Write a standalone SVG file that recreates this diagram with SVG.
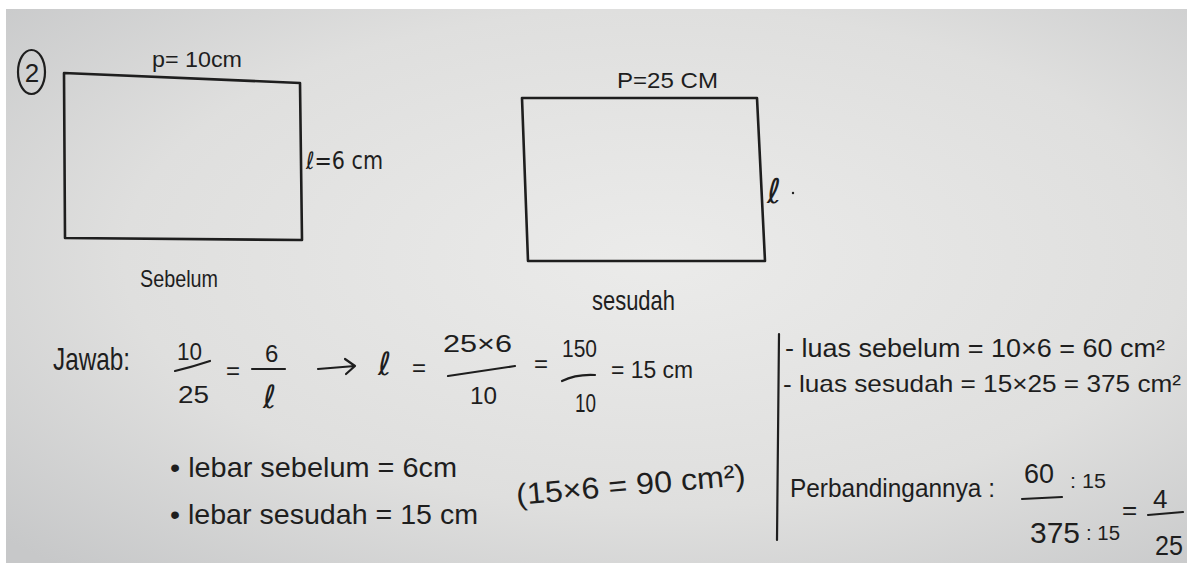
<svg xmlns="http://www.w3.org/2000/svg" width="1187" height="563" viewBox="0 0 1187 563">
<defs>
<radialGradient id="paper" cx="0.55" cy="0.45" r="0.75">
<stop offset="0" stop-color="#ebebea"/>
<stop offset="0.6" stop-color="#dfdfde"/>
<stop offset="1" stop-color="#c7c8c9"/>
</radialGradient>
</defs>
<style>
.ink{fill:none;stroke:#1e1e1e;stroke-width:2.6;stroke-linecap:round;stroke-linejoin:round}
.thin{stroke-width:2.2}
.t{font-family:"Liberation Sans","DejaVu Sans",Arial,sans-serif;fill:#1e1e1e}
.e{font-family:"DejaVu Sans","Liberation Sans",sans-serif;fill:#1e1e1e}
</style>
<rect width="1187" height="563" fill="#ffffff"/>
<rect x="6" y="9" width="1181" height="554" fill="url(#paper)"/>

<g id="label-2">
<ellipse cx="31.5" cy="72" rx="13.5" ry="22" class="ink thin"/>
<text x="32" y="82" class="t" font-size="26" text-anchor="middle">2</text>
</g>

<g id="rect-sebelum">
<polygon points="64,73 300,83 302,240 65,238" class="ink"/>
<text x="152" y="67" class="t" font-size="22" textLength="90" lengthAdjust="spacingAndGlyphs">p= 10cm</text>
<text x="306" y="169" class="e" font-size="24" textLength="77" lengthAdjust="spacingAndGlyphs">ℓ=6 cm</text>
<text x="140" y="287" class="t" font-size="24" textLength="78" lengthAdjust="spacingAndGlyphs">Sebelum</text>
</g>

<g id="rect-sesudah">
<polygon points="522,98 757,98 765,261 528,261" class="ink"/>
<text x="617" y="88" class="t" font-size="22" textLength="101" lengthAdjust="spacingAndGlyphs">P=25 CM</text>
<text x="767" y="203" class="e" font-size="34">ℓ</text>
<circle cx="793" cy="193" r="1.2" fill="#1e1e1e"/>
<text x="592" y="310" class="t" font-size="28" textLength="83" lengthAdjust="spacingAndGlyphs">sesudah</text>
</g>

<g id="jawab">
<text x="53" y="370" class="t" font-size="32" textLength="77" lengthAdjust="spacingAndGlyphs">Jawab:</text>
<text x="177" y="360" class="t" font-size="24" textLength="25" lengthAdjust="spacingAndGlyphs">10</text>
<path d="M175,371 Q192,367 210,361" class="ink thin"/>
<text x="178" y="403" class="t" font-size="24" textLength="31" lengthAdjust="spacingAndGlyphs">25</text>
<text x="226" y="379" class="t" font-size="24">=</text>
<text x="265" y="362" class="t" font-size="24">6</text>
<line x1="252" y1="369" x2="285" y2="369" class="ink thin"/>
<text x="263" y="408" class="e" font-size="32">ℓ</text>
<path d="M318,369 L355,366 M345,359 L355,366 L346,374" class="ink thin"/>
<text x="378" y="375" class="e" font-size="32">ℓ</text>
<text x="412" y="376" class="t" font-size="24">=</text>
<text x="443" y="352" class="t" font-size="24" textLength="69" lengthAdjust="spacingAndGlyphs">25×6</text>
<path d="M448,376 L515,366" class="ink thin"/>
<text x="470" y="404" class="t" font-size="24" textLength="27" lengthAdjust="spacingAndGlyphs">10</text>
<text x="534" y="372" class="t" font-size="24">=</text>
<text x="562" y="357" class="t" font-size="24" textLength="35" lengthAdjust="spacingAndGlyphs">150</text>
<path d="M562,381 Q576,374 595,375" class="ink thin"/>
<text x="575" y="412" class="t" font-size="26" textLength="21" lengthAdjust="spacingAndGlyphs">10</text>
<text x="611" y="378" class="t" font-size="24" textLength="82" lengthAdjust="spacingAndGlyphs">= 15 cm</text>
</g>

<g id="lebar">
<text x="170" y="477" class="t" font-size="28" textLength="287" lengthAdjust="spacingAndGlyphs">• lebar  sebelum = 6cm</text>
<text x="170" y="524" class="t" font-size="28" textLength="308" lengthAdjust="spacingAndGlyphs">• lebar  sesudah = 15 cm</text>
<text x="517" y="505" class="t" font-size="30" textLength="230" lengthAdjust="spacingAndGlyphs" transform="rotate(-5 517 505)">(15×6 = 90 cm²)</text>
</g>

<g id="divider">
<path d="M779,334 L777,540" class="ink thin"/>
</g>

<g id="luas">
<text x="785" y="357" class="t" font-size="25" textLength="380" lengthAdjust="spacingAndGlyphs">- luas  sebelum = 10×6 = 60 cm²</text>
<text x="783" y="392" class="t" font-size="24" textLength="398" lengthAdjust="spacingAndGlyphs">- luas  sesudah = 15×25 = 375 cm²</text>
<text x="790" y="497" class="t" font-size="26" textLength="205" lengthAdjust="spacingAndGlyphs">Perbandingannya :</text>
<text x="1024" y="483" class="t" font-size="28" textLength="30" lengthAdjust="spacingAndGlyphs">60</text>
<path d="M1022,499 L1062,497" class="ink thin"/>
<text x="1070" y="488" class="t" font-size="20" textLength="36" lengthAdjust="spacingAndGlyphs">: 15</text>
<text x="1030" y="543" class="t" font-size="30" textLength="50" lengthAdjust="spacingAndGlyphs">375</text>
<text x="1086" y="540" class="t" font-size="20" textLength="34" lengthAdjust="spacingAndGlyphs">: 15</text>
<text x="1122" y="519" class="t" font-size="26">=</text>
<text x="1153" y="508" class="t" font-size="26">4</text>
<path d="M1148,515 L1183,512" class="ink thin"/>
<text x="1155" y="555" class="t" font-size="28" textLength="28" lengthAdjust="spacingAndGlyphs">25</text>
</g>
</svg>
